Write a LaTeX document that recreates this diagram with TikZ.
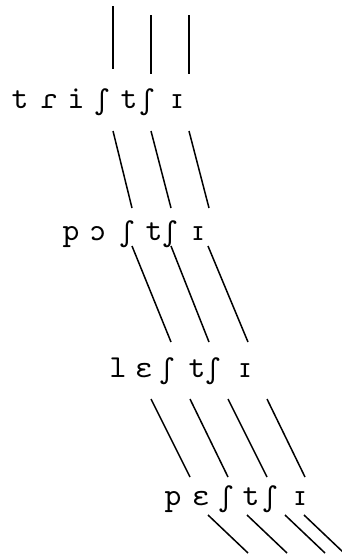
\documentclass[tikz,border=0pt]{standalone}
\usepackage{graphicx}
\usepackage{tipa}
\newcommand\ipaseg[1]{\scalebox{3.2}{\fontencoding{T3}\fontfamily{cmtt}\fontsize{10}{10}\selectfont #1}}
\tikzset{
  seg/.style={anchor=base, inner sep=0pt},
  link/.style={line width=1.5pt}
}
\begin{document}
\begin{tikzpicture}[x=1pt,y=-1pt]
\useasboundingbox (0,0) rectangle (342,558);
% row 1
\node[seg] (a1) at (20,108)  {\ipaseg{t}};
\node[seg] (a2) at (49,108)  {\ipaseg{R}};
\node[seg] (a3) at (76,108)  {\ipaseg{i}};
\node[seg] (a4) at (102,108) {\ipaseg{S}};
\node[seg] (a5) at (129,108) {\ipaseg{t}};
\node[seg] (a6) at (147,108) {\ipaseg{S}};
\node[seg] (a7) at (177,108) {\ipaseg{I}};
% row 2
\node[seg] (b1) at (71,240)  {\ipaseg{p}};
\node[seg] (b2) at (98,240)  {\ipaseg{O}};
\node[seg] (b3) at (127,240) {\ipaseg{S}};
\node[seg] (b4) at (154,240) {\ipaseg{t}};
\node[seg] (b5) at (170,240) {\ipaseg{S}};
\node[seg] (b6) at (198,240) {\ipaseg{I}};
% row 3
\node[seg] (c1) at (118,377) {\ipaseg{l}};
\node[seg] (c2) at (144,377) {\ipaseg{E}};
\node[seg] (c3) at (167,377) {\ipaseg{S}};
\node[seg] (c4) at (197,377) {\ipaseg{t}};
\node[seg] (c5) at (213,377) {\ipaseg{S}};
\node[seg] (c6) at (245,377) {\ipaseg{I}};
% row 4
\node[seg] (d1) at (173,505) {\ipaseg{p}};
\node[seg] (d2) at (201,505) {\ipaseg{E}};
\node[seg] (d3) at (226,505) {\ipaseg{S}};
\node[seg] (d4) at (251,505) {\ipaseg{t}};
\node[seg] (d5) at (270,505) {\ipaseg{S}};
\node[seg] (d6) at (300,505) {\ipaseg{I}};
% line end points
\coordinate (t1) at (113,6);   \coordinate (u1) at (113,69);
\coordinate (t2) at (151,15);  \coordinate (u2) at (151,74);
\coordinate (t3) at (189,15);  \coordinate (u3) at (189,74);
\coordinate (p1) at (113,131); \coordinate (q1) at (132,208);
\coordinate (p2) at (151,131); \coordinate (q2) at (171,208);
\coordinate (p3) at (189,131); \coordinate (q3) at (209,208);
\coordinate (r1) at (132,246); \coordinate (s1) at (171,342);
\coordinate (r2) at (171,246); \coordinate (s2) at (209,342);
\coordinate (r3) at (208,246); \coordinate (s3) at (248,342);
\coordinate (v1) at (151,399); \coordinate (w1) at (190,477);
\coordinate (v2) at (190,399); \coordinate (w2) at (228,477);
\coordinate (v3) at (228,399); \coordinate (w3) at (267,477);
\coordinate (v4) at (267,399); \coordinate (w4) at (305,477);
\coordinate (x1) at (208,515); \coordinate (y1) at (248,553);
\coordinate (x2) at (247,515); \coordinate (y2) at (287,553);
\coordinate (x3) at (285,515); \coordinate (y3) at (325,553);
\coordinate (x4) at (304,515); \coordinate (y4) at (344,553);
\foreach \i in {1,2,3} {
  \draw[link] (t\i) -- (u\i);
  \draw[link] (p\i) -- (q\i);
  \draw[link] (r\i) -- (s\i);
}
\foreach \i in {1,2,3,4} {
  \draw[link] (v\i) -- (w\i);
  \draw[link] (x\i) -- (y\i);
}
\end{tikzpicture}
\end{document}
